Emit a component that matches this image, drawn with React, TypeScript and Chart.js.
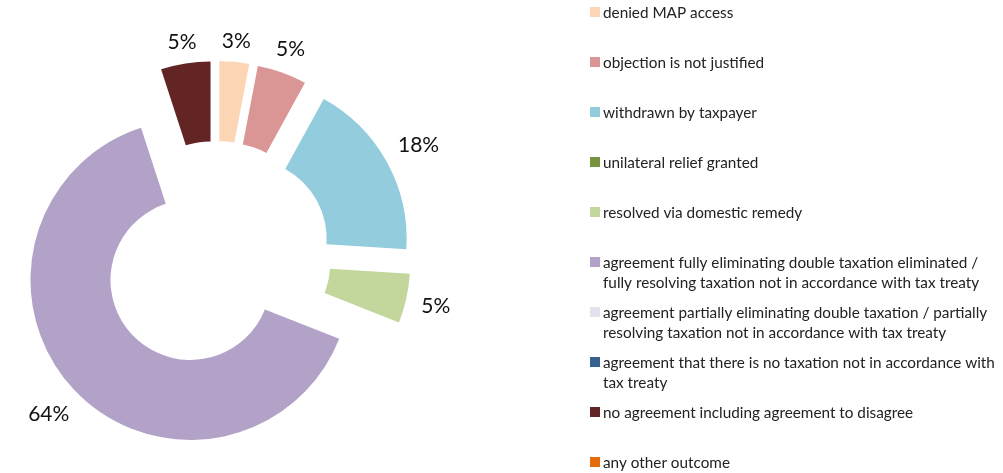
import React, { useEffect, useRef } from "react";
import { Chart, registerables } from "chart.js";

Chart.register(...registerables);

const categories: (string | string[])[] = [
  "denied MAP access",
  "objection is not justified",
  "withdrawn by taxpayer",
  "unilateral relief granted",
  "resolved via domestic remedy",
  ["agreement fully eliminating double taxation eliminated /", "fully resolving taxation not in accordance with tax treaty"],
  ["agreement partially eliminating double taxation / partially", "resolving taxation not in accordance with tax treaty"],
  ["agreement that there is no taxation not in accordance with", "tax treaty"],
  "no agreement including agreement to disagree",
  "any other outcome",
];

const shares = [3, 5, 18, 0, 5, 64, 0, 0, 5, 0];

const colors = [
  "#FCD5B5",
  "#D99694",
  "#93CDDD",
  "#77933C",
  "#C3D69B",
  "#B3A2C7",
  "#E6E0EC",
  "#376092",
  "#632523",
  "#E46C0A",
];

const W = 1003;
const H = 473;
const EXPLODE = 35;
const RADIUS = 160;
const LABEL_SIZE = 21;
const LABEL_FONT = `${LABEL_SIZE}px Lato`;
const LEGEND_FONT = "15.3px Lato";

const explodePlugin = {
  id: "explode",
  afterDatasetsUpdate(chart: any) {
    const meta = chart.getDatasetMeta(0);
    meta.data.forEach((arc: any) => {
      const mid = (arc.startAngle + arc.endAngle) / 2;
      arc.x += Math.cos(mid) * EXPLODE;
      arc.y += Math.sin(mid) * EXPLODE;
    });
  },
};

const pctLabelPlugin = {
  id: "pctLabels",
  afterDatasetsDraw(chart: any) {
    const ctx = chart.ctx;
    const meta = chart.getDatasetMeta(0);
    const data = chart.data.datasets[0].data as number[];
    ctx.save();
    ctx.font = LABEL_FONT;
    ctx.fillStyle = "#111";
    ctx.textAlign = "center";
    ctx.textBaseline = "alphabetic";
    const capH = LABEL_SIZE * 0.72;
    meta.data.forEach((arc: any, i: number) => {
      const v = data[i];
      if (!v) return;
      const txt = `${v}%`;
      const w = ctx.measureText(txt).width;
      const mid = (arc.startAngle + arc.endAngle) / 2;
      const c = Math.cos(mid);
      const s = Math.sin(mid);
      const dist = arc.outerRadius + 10 + Math.abs(c) * (w / 2 + 4) + Math.abs(s) * (capH / 2 + 2);
      const x = arc.x + c * dist;
      const y = arc.y + s * dist;
      ctx.fillText(txt, x, y + capH / 2);
    });
    ctx.restore();
  },
};

const legendPlugin = {
  id: "sideLegend",
  afterDraw(chart: any) {
    const ctx = chart.ctx;
    const labels = chart.data.labels as (string | string[])[];
    const bg = chart.data.datasets[0].backgroundColor as string[];
    ctx.save();
    ctx.font = LEGEND_FONT;
    ctx.textAlign = "left";
    ctx.textBaseline = "middle";
    labels.forEach((lab, i) => {
      const yc = 12 + 50 * i;
      ctx.fillStyle = bg[i];
      ctx.fillRect(590, yc - 5, 10, 10);
      ctx.fillStyle = "#222";
      const lines = Array.isArray(lab) ? lab : [lab];
      lines.forEach((ln, j) => {
        ctx.fillText(ln, 603, yc + j * 20 + 1);
      });
    });
    ctx.restore();
  },
};

export default function App() {
  const ref = useRef<HTMLCanvasElement | null>(null);

  useEffect(() => {
    document.body.style.margin = "0";
    if (!ref.current) return;
    const chart = new Chart(ref.current, {
      type: "doughnut",
      data: {
        labels: categories as any,
        datasets: [
          {
            data: shares,
            backgroundColor: colors,
            borderWidth: 0,
          },
        ],
      },
      options: {
        responsive: false,
        animation: false,
        events: [],
        radius: RADIUS,
        cutout: "50%",
        layout: { padding: { left: 0, right: W - 432, top: 39, bottom: 0 } },
        plugins: {
          legend: { display: false },
          tooltip: { enabled: false },
          title: { display: false },
        },
      } as any,
      plugins: [explodePlugin, pctLabelPlugin, legendPlugin],
    });
    return () => chart.destroy();
  }, []);

  return (
    <div style={{ width: W, height: H, background: "#fff" }}>
      <canvas ref={ref} width={W} height={H} style={{ display: "block" }} />
    </div>
  );
}
